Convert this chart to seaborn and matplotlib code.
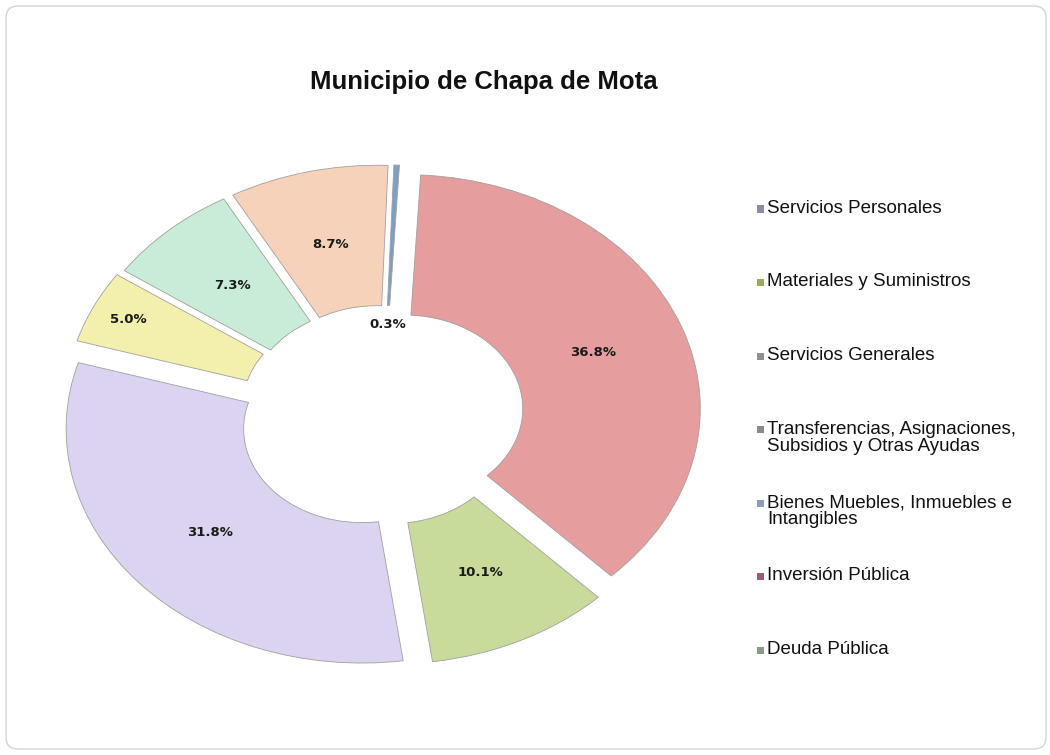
import matplotlib
matplotlib.use("Agg")
import matplotlib.pyplot as plt
from matplotlib.patches import FancyBboxPatch, Rectangle
import seaborn as sns

# data
categories = ["Servicios Personales", "Materiales y Suministros", "Servicios Generales",
              "Transferencias, Asignaciones,\nSubsidios y Otras Ayudas",
              "Bienes Muebles, Inmuebles e\nIntangibles", "Inversión Pública", "Deuda Pública"]
shares = [31.8, 5.0, 7.3, 8.7, 0.3, 36.8, 10.1]
slice_colors = ["#dcd3f0", "#f3efad", "#c9ecd6", "#f6d2bb", "#7f9fc2", "#e59d9d", "#c9db9b"]
legend_colors = ["#8c8aa8", "#9aa860", "#8f8f8f", "#8a8a8a", "#8aa0b8", "#a05a72", "#8a9a88"]
title = "Municipio de Chapa de Mota"

sns.set_theme(style="white")
plt.rcParams["font.family"] = ["Liberation Sans", "DejaVu Sans"]

fig = plt.figure(figsize=(10.5, 7.55), dpi=100)
ax = fig.add_axes([0.054, 0.109, 0.62, 0.682])

explode = [0.09, 0.08, 0.07, 0.07, 0.07, 0.08, 0.07]
wedges, texts, autotexts = ax.pie(
    shares, colors=slice_colors, explode=explode, startangle=-82, counterclock=False,
    autopct="%.1f%%", pctdistance=0.68,
    wedgeprops=dict(width=0.6, edgecolor="#a0a0a0", linewidth=0.6),
    textprops=dict(fontsize=9.5, fontweight="bold", color="#1a1a1a", family="DejaVu Sans"))

# nudge a couple of labels like the original
x, y = autotexts[4].get_position()
autotexts[4].set_position((x * 0.52, y * 0.52))
x, y = autotexts[1].get_position()
autotexts[1].set_position((x * 1.25, y * 1.25))

ax.set_aspect("auto")
ax.set_xlim(-1.1, 1.1)
ax.set_ylim(-1.1, 1.1)
ax.axis("off")

fig.text(0.461, 1 - 82 / 755, title, ha="center", va="center", fontsize=18.5, fontweight="bold", color="#111111")

# legend, equal slots like the original
W, H = 1050, 755
slot_y = 209
for lab, col in zip(categories, legend_colors):
    fig.patches.append(Rectangle((757 / W, (H - slot_y - 3.5) / H), 7 / W, 7 / H,
                                 transform=fig.transFigure, facecolor=col, edgecolor="none"))
    fig.text(767 / W, (H - slot_y + 9) / H, lab, ha="left", va="top", fontsize=13.5,
             color="#111111", linespacing=1.02)
    slot_y += 73.5

border = FancyBboxPatch((0.06, 0.06), 10.4, 7.43, boxstyle="round,pad=0,rounding_size=0.12",
                        transform=fig.dpi_scale_trans, facecolor="none", edgecolor="#d4d4d4", linewidth=1)
fig.patches.append(border)

fig.savefig("out.png", dpi=100, facecolor="white")
